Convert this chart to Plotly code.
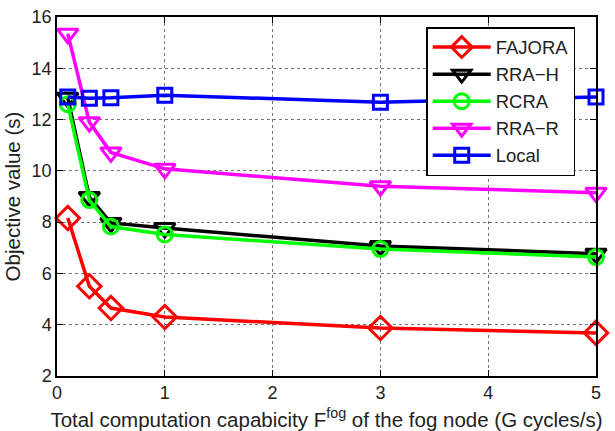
import plotly.graph_objects as go

x = [0.1, 0.3, 0.5, 1, 3, 5]
names = ["FAJORA", "RRA\u2212H", "RCRA", "RRA\u2212R", "Local"]
fajora = [8.16, 5.5, 4.65, 4.3, 3.87, 3.68]
rra_h = [12.85, 8.98, 7.97, 7.77, 7.07, 6.77]
rcra = [12.6, 8.86, 7.83, 7.52, 6.95, 6.64]
rra_r = [15.35, 11.9, 10.72, 10.08, 9.4, 9.15]
local = [12.88, 12.83, 12.85, 12.95, 12.68, 12.88]

series = [fajora, rra_h, rcra, rra_r, local]
colors = ["#FF0000", "#000000", "#00FF00", "#FF00FF", "#0000FF"]
symbols = ["diamond-open", "triangle-down-open", "circle-open", "triangle-down-open", "square-open"]
sizes = [18, 18, 15, 18, 14]

FONT = "Liberation Sans, Arial, Helvetica, sans-serif"

fig = go.Figure()
for nm, ys, c, s, sz in zip(names, series, colors, symbols, sizes):
    fig.add_trace(go.Scatter(
        x=x, y=ys, name=nm, mode="lines+markers",
        line=dict(color=c, width=3.5),
        marker=dict(symbol=s, size=sz, color=c, line=dict(color=c, width=3)),
        cliponaxis=False,
    ))

axis_common = dict(
    showline=True, linecolor="black", linewidth=1.5, mirror="allticks",
    ticks="inside", ticklen=6, tickcolor="black", tickwidth=1,
    showgrid=True, gridcolor="rgba(0,0,0,0.55)", griddash="dot", gridwidth=1,
    zeroline=False,
    tickfont=dict(family=FONT, size=18, color="#222"),
)

fig.update_layout(
    width=615, height=431,
    margin=dict(l=57, r=19, t=17, b=55),
    paper_bgcolor="white", plot_bgcolor="white",
    font=dict(family=FONT, size=18, color="#222"),
    showlegend=True,
    legend=dict(
        x=0.685, y=0.972, xanchor="left", yanchor="top",
        bgcolor="white", bordercolor="black", borderwidth=1.5,
        font=dict(family=FONT, size=18.5, color="#222"),
        itemwidth=58,
    ),
    xaxis=dict(range=[0, 5], tickvals=[0, 1, 2, 3, 4, 5], automargin=False,
               title=dict(text="Total computation capabicity F<sup>fog</sup> of the fog node (G cycles/s)",
                          font=dict(family=FONT, size=20.5, color="#222"), standoff=11),
               **axis_common),
    yaxis=dict(range=[2, 16], tickvals=[2, 4, 6, 8, 10, 12, 14, 16], automargin=False,
               title=dict(text="Objective value (s)",
                          font=dict(family=FONT, size=20.5, color="#222"), standoff=5),
               **axis_common),
)

fig.write_html("out.html")
